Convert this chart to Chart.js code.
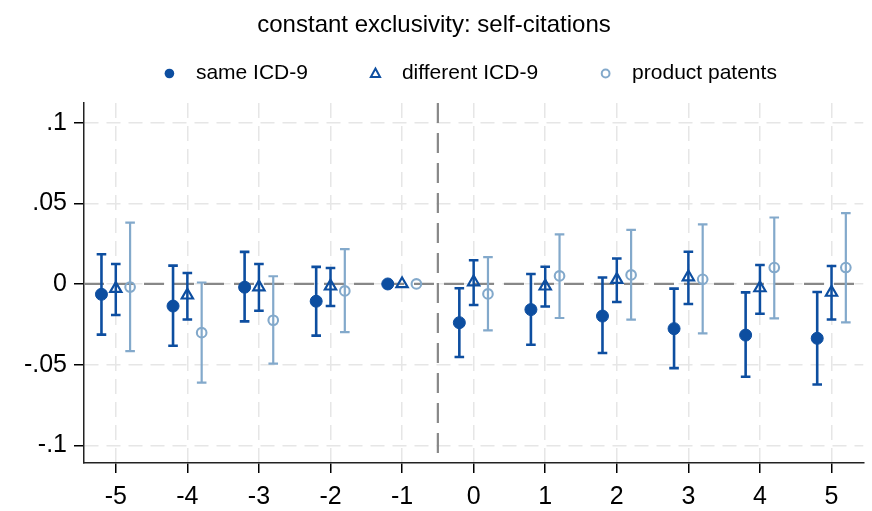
<!DOCTYPE html>
<html lang="en">
<head>
<meta charset="UTF-8">
<title>constant exclusivity: self-citations</title>
<script src="https://cdn.jsdelivr.net/npm/chart.js"></script>
<style>
  body { margin: 0; background: #fff; }
  #wrap { width: 872px; height: 511px; }
</style>
</head>
<body>
<div id="wrap"><canvas id="chart" width="872" height="511"></canvas></div>
<script>
// event time (years relative to event)
const periods = [-5, -4, -3, -2, -1, 0, 1, 2, 3, 4, 5];

// same ICD-9
const sameEst = [-0.0064, -0.0137, -0.0020, -0.0107, 0, -0.0240, -0.0159, -0.0199, -0.0277, -0.0317, -0.0337];
const sameLo  = [-0.0314, -0.0383, -0.0232, -0.0320, 0, -0.0453, -0.0377, -0.0428, -0.0522, -0.0575, -0.0623];
const sameHi  = [ 0.0184,  0.0114,  0.0199,  0.0106, 0, -0.0027,  0.0062,  0.0040, -0.0029, -0.0052, -0.0050];

// different ICD-9
const diffEst = [-0.0029, -0.0070, -0.0019, -0.0014, 0,  0.0012, -0.0014,  0.0027,  0.0043, -0.0025, -0.0053];
const diffLo  = [-0.0193, -0.0221, -0.0166, -0.0137, 0, -0.0130, -0.0140, -0.0112, -0.0124, -0.0184, -0.0221];
const diffHi  = [ 0.0124,  0.0068,  0.0124,  0.0099, 0,  0.0147,  0.0106,  0.0158,  0.0199,  0.0118,  0.0112];

// product patents
const prodEst = [-0.0019, -0.0302, -0.0225, -0.0043, 0, -0.0062,  0.0050,  0.0056,  0.0029,  0.0102,  0.0102];
const prodLo  = [-0.0416, -0.0612, -0.0494, -0.0298, 0, -0.0288, -0.0211, -0.0221, -0.0306, -0.0213, -0.0238];
const prodHi  = [ 0.0380,  0.0009,  0.0048,  0.0216, 0,  0.0166,  0.0307,  0.0335,  0.0369,  0.0412,  0.0439];

const yTicks = [-0.1, -0.05, 0, 0.05, 0.1];
const yTickLabels = ['-.1', '-.05', '0', '.05', '.1'];

const seriesNames = ['same ICD-9', 'different ICD-9', 'product patents'];
const dodge = [-0.2, 0, 0.2];   // horizontal offset of each series within a period
const eventLine = -0.5;        // vertical dashed line between -1 and 0

const DARK = '#0d4ea0';
const LIGHT = '#83a9cb';
const FONT = '"Liberation Sans", Arial, sans-serif';

function makeData(est, lo, hi, off) {
    return periods.map((p, i) => ({ x: p + off, y: est[i], lo: lo[i], hi: hi[i] }));
}

// reference lines at y = 0 and at the event
const refLines = {
    id: 'refLines',
    beforeDatasetsDraw(chart) {
        const { ctx, chartArea: a, scales: { x, y } } = chart;
        ctx.save();
        ctx.strokeStyle = '#888888';
        ctx.lineWidth = 2.2;
        ctx.setLineDash([20, 10]);
        const y0 = y.getPixelForValue(0);
        ctx.beginPath();
        ctx.moveTo(a.left, y0);
        ctx.lineTo(a.right, y0);
        ctx.stroke();
        const xe = x.getPixelForValue(eventLine);
        ctx.beginPath();
        ctx.moveTo(xe, a.top);
        ctx.lineTo(xe, a.bottom);
        ctx.stroke();
        ctx.restore();
    }
};

// capped confidence intervals
const errorBars = {
    id: 'errorBars',
    beforeDatasetsDraw(chart) {
        const { ctx, scales: { x, y } } = chart;
        chart.data.datasets.forEach(ds => {
            ctx.save();
            ctx.strokeStyle = ds.borderColor;
            ctx.lineWidth = ds.barWidth;
            ds.data.forEach(d => {
                if (d.lo === d.hi) return;
                const px = x.getPixelForValue(d.x);
                const pl = y.getPixelForValue(d.lo);
                const ph = y.getPixelForValue(d.hi);
                ctx.beginPath();
                ctx.moveTo(px, pl); ctx.lineTo(px, ph);
                ctx.moveTo(px - 4.8, pl); ctx.lineTo(px + 4.8, pl);
                ctx.moveTo(px - 4.8, ph); ctx.lineTo(px + 4.8, ph);
                ctx.stroke();
            });
            ctx.restore();
        });
    }
};

// one-row legend under the title
const rowLegend = {
    id: 'rowLegend',
    afterDraw(chart) {
        const { ctx, chartArea: a } = chart;
        ctx.save();
        ctx.font = '21px ' + FONT;
        ctx.textBaseline = 'middle';
        ctx.fillStyle = '#000';
        const symGap = 26.5, itemGap = 67.5, yy = 73.5;
        const widths = seriesNames.map(n => ctx.measureText(n).width);
        let total = 5;
        widths.forEach((w, i) => { total += symGap + w + (i < widths.length - 1 ? itemGap : 0); });
        let sx = (a.left + a.right) / 2 - 3 - total / 2 + 5;
        chart.data.datasets.forEach((ds, i) => {
            ctx.save();
            ctx.strokeStyle = ds.borderColor;
            ctx.fillStyle = ds.borderColor;
            ctx.lineWidth = 2;
            ctx.beginPath();
            if (i === 0) {
                ctx.arc(sx, yy, 4.8, 0, Math.PI * 2);
                ctx.fill();
            } else if (i === 1) {
                ctx.moveTo(sx, yy - 5);
                ctx.lineTo(sx + 4.6, yy + 3.5);
                ctx.lineTo(sx - 4.6, yy + 3.5);
                ctx.closePath();
                ctx.stroke();
            } else {
                ctx.arc(sx, yy, 3.9, 0, Math.PI * 2);
                ctx.stroke();
            }
            ctx.restore();
            ctx.fillText(seriesNames[i], sx + symGap, yy);
            sx += symGap + widths[i] + itemGap;
        });
        ctx.restore();
    }
};

const gridDash = { color: '#e6e6e6', lineWidth: 1.5, tickColor: '#000', tickWidth: 1.5, tickLength: 10 };

new Chart(document.getElementById('chart'), {
    type: 'scatter',
    data: {
        datasets: [
            {
                label: seriesNames[0], data: makeData(sameEst, sameLo, sameHi, dodge[0]),
                pointStyle: 'circle', pointRadius: 6, pointBackgroundColor: DARK,
                borderColor: DARK, pointBorderWidth: 1, barWidth: 2.6
            },
            {
                label: seriesNames[1], data: makeData(diffEst, diffLo, diffHi, dodge[1]),
                pointStyle: 'triangle', pointRadius: 6.5, pointBackgroundColor: 'rgba(0,0,0,0)',
                borderColor: DARK, pointBorderWidth: 2.2, barWidth: 2.5
            },
            {
                label: seriesNames[2], data: makeData(prodEst, prodLo, prodHi, dodge[2]),
                pointStyle: 'circle', pointRadius: 4.8, pointBackgroundColor: 'rgba(0,0,0,0)',
                borderColor: LIGHT, pointBorderWidth: 2.1, barWidth: 2.2
            }
        ]
    },
    options: {
        responsive: false,
        animation: false,
        layout: { padding: { left: 0, right: 4, top: 0, bottom: 0 } },
        plugins: {
            legend: { display: false },
            tooltip: { enabled: false },
            title: {
                display: true,
                text: 'constant exclusivity: self-citations',
                color: '#000',
                font: { family: FONT, size: 24, weight: 'normal' },
                padding: { top: 10.6, bottom: 63.6 }
            }
        },
        scales: {
            x: {
                type: 'linear',
                min: -5.444,
                max: 5.444,
                afterBuildTicks: s => { s.ticks = periods.map(v => ({ value: v })); },
                afterFit: s => { s.height = 48; },
                ticks: {
                    color: '#000',
                    font: { family: FONT, size: 25 },
                    padding: 9,
                    maxRotation: 0,
                    callback: v => String(v)
                },
                grid: gridDash,
                border: { display: true, color: '#222', width: 1.5, dash: [15, 8] }
            },
            y: {
                min: -0.111,
                max: 0.1122,
                afterBuildTicks: s => { s.ticks = yTicks.map(v => ({ value: v })); },
                afterFit: s => { s.width = 84; },
                ticks: {
                    color: '#000',
                    font: { family: FONT, size: 25 },
                    padding: 7,
                    callback: (v, i) => yTickLabels[i]
                },
                grid: gridDash,
                border: { display: true, color: '#222', width: 1.5, dash: [14, 8] }
            }
        }
    },
    plugins: [refLines, errorBars, rowLegend]
});
</script>
</body>
</html>
